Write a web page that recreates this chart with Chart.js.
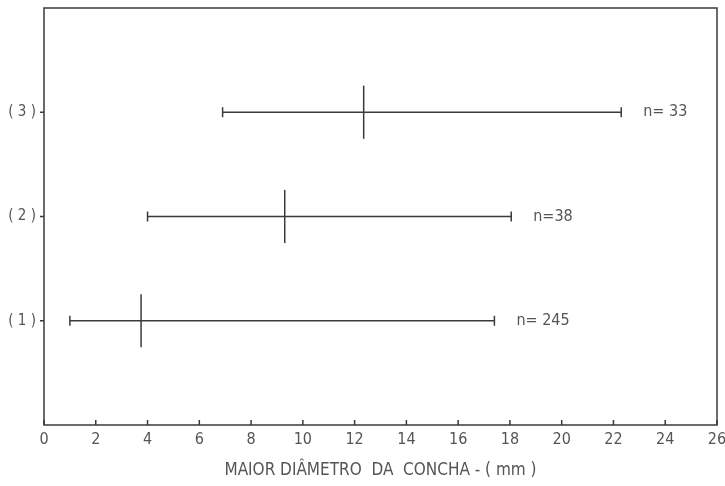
<!DOCTYPE html>
<html>
<head>
<meta charset="utf-8">
<script src="https://cdn.jsdelivr.net/npm/chart.js@4"></script>
<style>
  html, body { margin: 0; padding: 0; background: #fff; }
  #wrap { width: 725px; height: 486px; }
</style>
</head>
<body>
<div id="wrap"><canvas id="c"></canvas></div>
<script>
// groups shown on the y axis, bottom to top
var groupLabels = ["( 1 )", "( 2 )", "( 3 )"];
var groupPos = [1, 2, 3];
var minVals = [1.0, 4.0, 6.9];
var meanVals = [3.75, 9.3, 12.35];
var maxVals = [17.4, 18.05, 22.3];
var nLabels = ["n= 245", "n=38", "n= 33"];
var xTicks = [0, 2, 4, 6, 8, 10, 12, 14, 16, 18, 20, 22, 24, 26];
var meanHalf = 0.255; // half height of the mean mark, in y units

var ink = "#3a3a3a";
var textCol = "#555";
var fontFam = "'Liberation Sans Narrow', 'DejaVu Sans Condensed', sans-serif";

var datasets = [];
groupPos.forEach(function (y, i) {
  // range line with end caps
  datasets.push({
    data: [{ x: minVals[i], y: y }, { x: maxVals[i], y: y }],
    borderColor: ink,
    borderWidth: 1.5,
    pointStyle: "line",
    rotation: 90,
    pointRadius: 5,
    pointBorderWidth: 1.5,
    pointBorderColor: ink,
    showLine: true
  });
  // mean mark
  datasets.push({
    data: [{ x: meanVals[i], y: y - meanHalf }, { x: meanVals[i], y: y + meanHalf }],
    borderColor: ink,
    borderWidth: 1.5,
    pointRadius: 0,
    showLine: true
  });
});

// frame, inward x ticks and the n= labels
var decor = {
  id: "decor",
  afterDatasetsDraw: function (chart) {
    var ctx = chart.ctx;
    var a = chart.chartArea;
    var xs = chart.scales.x, ys = chart.scales.y;
    ctx.save();
    ctx.strokeStyle = ink;
    ctx.lineWidth = 1.5;
    ctx.strokeRect(a.left, a.top, a.right - a.left, a.bottom - a.top);
    ctx.beginPath();
    xTicks.forEach(function (v) {
      var px = xs.getPixelForValue(v);
      ctx.moveTo(px, a.bottom);
      ctx.lineTo(px, a.bottom - 5);
    });
    groupPos.forEach(function (v) {
      var py = ys.getPixelForValue(v);
      ctx.moveTo(a.left, py);
      ctx.lineTo(a.left - 4, py);
    });
    ctx.stroke();
    ctx.fillStyle = textCol;
    ctx.font = "16px " + fontFam;
    ctx.textBaseline = "middle";
    groupPos.forEach(function (y, i) {
      ctx.fillText(nLabels[i], xs.getPixelForValue(maxVals[i]) + 22, ys.getPixelForValue(y));
    });
    ctx.restore();
  }
};

new Chart(document.getElementById("c"), {
  type: "scatter",
  data: { datasets: datasets },
  plugins: [decor],
  options: {
    responsive: true,
    maintainAspectRatio: false,
    animation: false,
    layout: { padding: { top: 8, right: 0, left: 0, bottom: 0 } },
    plugins: { legend: { display: false }, tooltip: { enabled: false } },
    scales: {
      x: {
        type: "linear",
        min: 0,
        max: 26,
        afterBuildTicks: function (s) { s.ticks = xTicks.map(function (v) { return { value: v }; }); },
        afterFit: function (s) { s.height = 61; s.paddingRight = 8; },
        grid: { display: false, drawTicks: false },
        border: { display: false },
        ticks: { color: textCol, padding: 5, font: { family: fontFam, size: 16 }, maxRotation: 0 },
        title: {
          display: true,
          text: "MAIOR DIÂMETRO  DA  CONCHA - ( mm )",
          color: textCol,
          font: { family: fontFam, size: 17 },
          padding: { top: 0, bottom: 5 }
        }
      },
      y: {
        type: "linear",
        min: 0,
        max: 4,
        afterBuildTicks: function (s) { s.ticks = groupPos.map(function (v) { return { value: v }; }); },
        afterFit: function (s) { s.width = 44; s.paddingTop = 0; s.paddingBottom = 0; },
        grid: { display: false, drawTicks: false },
        border: { display: false },
        ticks: {
          color: textCol,
          padding: 8,
          font: { family: fontFam, size: 15 },
          callback: function (v) { return groupLabels[groupPos.indexOf(v)] || ""; }
        }
      }
    }
  }
});
</script>
</body>
</html>
